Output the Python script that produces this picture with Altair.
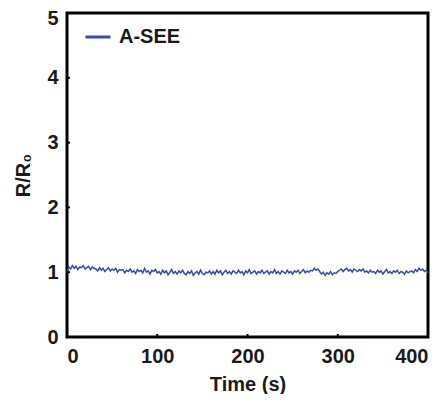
import altair as alt
import pandas as pd
import numpy as np

series_name = "A-SEE"
ratio = [
    1.00,
    1.08,1.05,1.10,1.06,1.09,1.04,1.08,1.07,1.10,1.05,1.07,1.09,1.04,1.08,1.06,
    1.05,1.02,1.07,1.03,1.06,1.01,1.04,1.07,1.02,1.05,1.03,1.06,1.00,1.04,1.03,
    1.04,0.99,1.03,1.01,1.05,1.00,1.02,0.98,1.04,1.01,1.03,0.99,1.06,1.00,1.02,0.97,1.03,1.01,1.04,0.99,
    1.01,0.97,1.03,0.99,1.02,0.96,1.00,1.04,0.98,1.01,0.97,1.02,0.99,1.03,0.98,
    0.96,1.01,0.98,1.02,0.95,0.99,1.01,0.97,1.03,0.98,0.96,1.00,0.99,1.02,0.97,
    1.01,0.97,1.03,0.99,1.02,0.96,1.00,1.03,0.98,1.01,0.97,1.02,1.00,0.98,1.03,
    0.99,1.01,0.96,1.02,0.99,1.04,0.98,1.00,1.02,0.97,1.01,0.99,1.03,0.98,1.00,
    1.02,0.97,1.01,0.99,1.04,0.98,1.01,0.97,1.02,1.00,0.98,1.03,0.99,1.01,0.97,
    1.02,1.00,1.03,0.98,1.01,1.04,0.99,1.02,1.00,1.03,
    1.02,1.06,1.03,1.05,1.01,
    0.97,1.00,0.95,0.99,0.97,1.01,0.96,0.99,0.98,1.01,
    1.03,1.05,1.01,1.04,1.06,1.02,1.04,1.00,1.05,1.03,1.01,1.04,1.02,1.05,1.00,
    1.02,0.99,1.03,1.00,1.01,0.98,1.03,1.00,1.02,0.97,1.01,1.04,0.99,1.01,0.98,
    1.02,1.00,1.03,0.98,1.01,1.00,0.97,1.02,0.99,1.01,
    1.02,0.99,1.04,1.01,1.06,1.03,1.05,1.01,1.03,0.99,
]
time = np.linspace(0, 400, len(ratio))
x_ticks = [0, 100, 200, 300, 400]
y_ticks = [0, 1, 2, 3, 4, 5]

df = pd.DataFrame({"t": time, "r": ratio, "s": series_name})
W, H = 361, 324
FONT = "Liberation Sans"
TXT = "#1a1a1a"
BLUE = "#3a4aa8"

xs = alt.Scale(domain=[0, 400], nice=False)
ys = alt.Scale(domain=[0, 5], nice=False)

line = alt.Chart(df).mark_line(strokeWidth=1.5).encode(
    x=alt.X("t:Q", scale=xs, title="Time (s)",
            axis=alt.Axis(values=x_ticks, ticks=False, domain=False, grid=False,
                          labelPadding=9, titlePadding=8, format="d")),
    y=alt.Y("r:Q", scale=ys, title="R/R₀",
            axis=alt.Axis(values=y_ticks, ticks=False, domain=False, grid=False,
                          labelPadding=9, titlePadding=13, format="d",
                          labelOffset={"condition": {"test": "datum.value == 5", "value": 5}, "value": 0})),
    color=alt.Color("s:N", scale=alt.Scale(domain=[series_name], range=[BLUE]),
                    legend=alt.Legend(title=None, orient="none", legendX=17, legendY=10,
                                      symbolType="stroke", symbolSize=625, symbolStrokeWidth=3,
                                      labelFontSize=20, labelFont=FONT, labelFontWeight="bold",
                                      labelColor=TXT, padding=0, labelOffset=7)),
)

xt = alt.Chart(pd.DataFrame({"v": x_ticks[1:-1]})).mark_rule(color="black", strokeWidth=2).encode(
    x=alt.X("v:Q", scale=xs), y=alt.value(H), y2=alt.value(H - 3))
yt = alt.Chart(pd.DataFrame({"v": y_ticks[1:-1]})).mark_rule(color="black", strokeWidth=2).encode(
    y=alt.Y("v:Q", scale=ys), x=alt.value(0), x2=alt.value(3))

chart = alt.layer(line, xt, yt).properties(
    width=W, height=H,
    autosize=alt.AutoSizeParams(type="none"),
    padding={"left": 59, "top": 5, "right": 11, "bottom": 57},
).configure_view(stroke="black", strokeWidth=3).configure_axis(
    labelFont=FONT, titleFont=FONT, labelFontSize=20, titleFontSize=20,
    labelFontWeight="bold", titleFontWeight="bold", labelColor=TXT, titleColor=TXT,
)

chart.save("out.html", embed_options={"renderer": "svg", "actions": False})
